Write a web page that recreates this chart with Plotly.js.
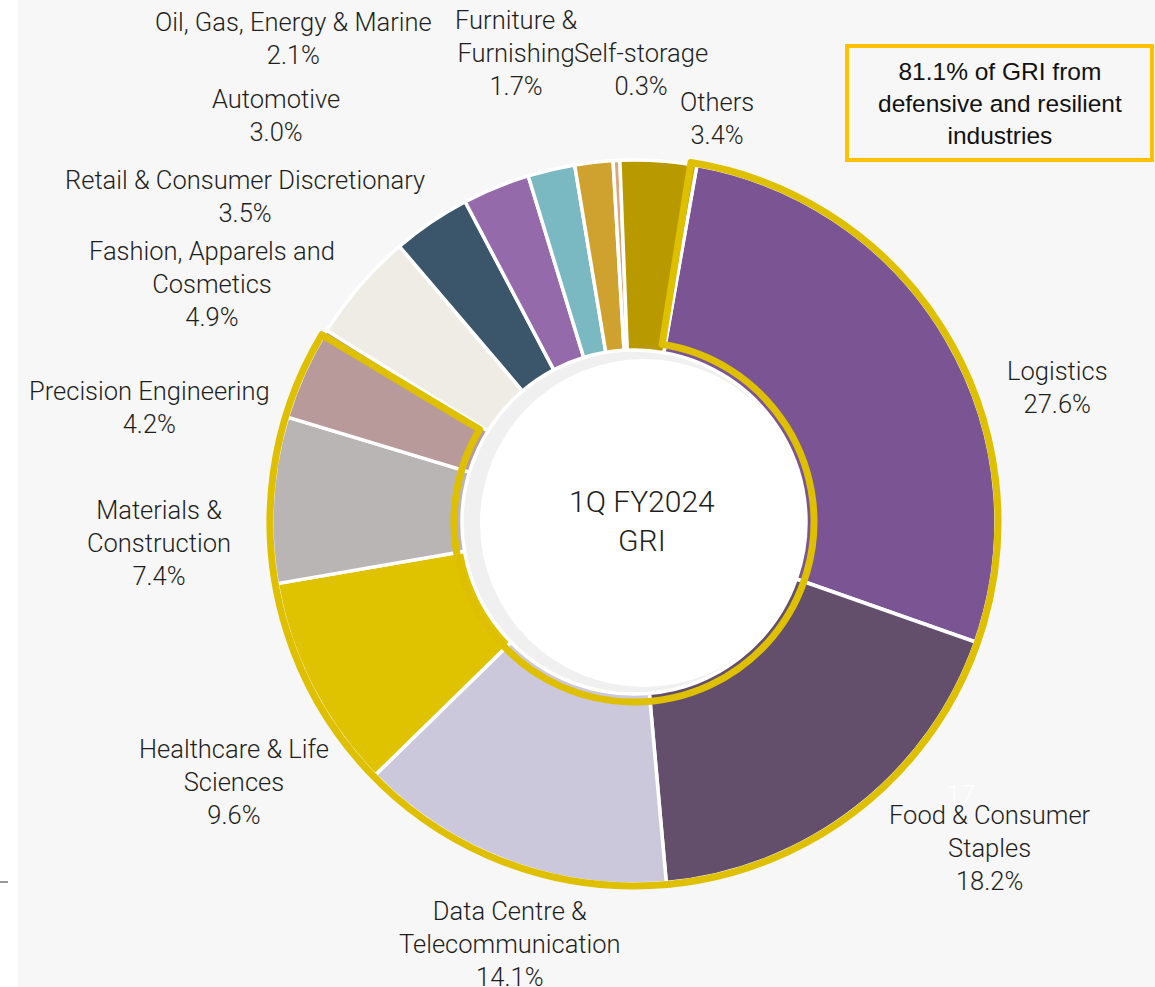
<!DOCTYPE html>
<html>
<head>
<meta charset="utf-8">
<script src="https://cdn.plot.ly/plotly-3.0.1.min.js"></script>
<style>
  html, body { margin: 0; padding: 0; background: #F7F7F7; }
  #chart { width: 1155px; height: 987px; }
</style>
</head>
<body>
<div id="chart"></div>
<script>
// ---- data ----
const categories = [
  'Logistics', 'Food & Consumer Staples', 'Data Centre & Telecommunication',
  'Healthcare & Life Sciences', 'Materials & Construction', 'Precision Engineering',
  'Fashion, Apparels and Cosmetics', 'Retail & Consumer Discretionary', 'Automotive',
  'Oil, Gas, Energy & Marine', 'Furniture & Furnishing', 'Self-storage', 'Others'
];
const shares = [27.6, 18.2, 14.1, 9.6, 7.4, 4.2, 4.9, 3.5, 3.0, 2.1, 1.7, 0.3, 3.4];
const defensiveCount = 6; // first six industries are the defensive / resilient group
const labelNames = [
  'Logistics', 'Food & Consumer<br>Staples', 'Data Centre &<br>Telecommunication',
  'Healthcare & Life<br>Sciences', 'Materials &<br>Construction', 'Precision Engineering',
  'Fashion, Apparels and<br>Cosmetics', 'Retail & Consumer Discretionary', 'Automotive',
  'Oil, Gas, Energy & Marine', 'Furniture &<br>Furnishing', 'Self-storage', 'Others'
];
const centreTitle = '1Q FY2024<br>GRI';
const pageNumber = '17';

// ---- styling ----
const sliceColors = [
  '#7B5493', '#634F6C', '#CBC8DC', '#DFC300', '#BAB5B5', '#B89A9B',
  '#EEECE4', '#3B566B', '#956AAB', '#7AB9C1', '#CFA22F', '#DCA57A', '#B89A00'
];
// label text block centres in pixels
const labelPos = [
  [1057, 387], [990, 848], [510, 944], [234, 782], [159, 543], [149, 407],
  [212, 284], [245, 196], [276, 115], [293, 38], [516, 53], [641, 70], [717, 118]
];

const W = 1155, H = 987;
function dom(cx, cy, r) {
  return { x: [(cx - r) / W, (cx + r) / W], y: [1 - (cy + r) / H, 1 - (cy - r) / H] };
}
const CX = 634, CY = 522, R = 362;

const defensiveShare = Math.round(shares.slice(0, defensiveCount).reduce((a, b) => a + b, 0) * 10) / 10;
const otherShare = Math.round((shares.reduce((a, b) => a + b, 0) - defensiveShare) * 10) / 10;

const traces = [
  { // grey inner ring
    type: 'pie', values: [1], labels: ['ring'], domain: dom(CX, CY, 174),
    marker: { colors: ['#F0F0F0'], line: { color: '#FFFFFF', width: 2 } },
    textinfo: 'none', hoverinfo: 'skip', showlegend: false, sort: false
  },
  { // white centre disc
    type: 'pie', values: [1], labels: ['centre'], domain: dom(644, 523, 164),
    marker: { colors: ['#FFFFFF'], line: { width: 0 } },
    textinfo: 'none', hoverinfo: 'skip', showlegend: false, sort: false
  },
  { // main donut
    type: 'pie', labels: categories, values: shares, domain: dom(CX, CY, R),
    hole: 172 / R, sort: false, direction: 'clockwise', rotation: 10,
    marker: { colors: sliceColors, line: { color: '#FFFFFF', width: 3.5 } },
    textinfo: 'none', hoverinfo: 'label+percent', showlegend: false
  },
  { // yellow outline around defensive group
    type: 'pie', labels: ['Defensive', 'Other'], values: [defensiveShare, otherShare],
    domain: dom(CX, CY, 364), hole: 180 / 364, sort: false, direction: 'clockwise', rotation: 9,
    marker: { colors: ['rgba(0,0,0,0)', 'rgba(0,0,0,0)'],
              line: { color: ['#DEC000', 'rgba(0,0,0,0)'], width: [7, 0] } },
    textinfo: 'none', hoverinfo: 'skip', showlegend: false
  }
];

const labelFont = { family: 'Roboto, "Liberation Sans", Arial, sans-serif', size: 25.5, color: '#1E1E1E', weight: 300 };
const annotations = labelNames.map((name, i) => ({
  xref: 'paper', yref: 'paper', x: labelPos[i][0] / W, y: 1 - labelPos[i][1] / H,
  xanchor: 'center', yanchor: 'middle', showarrow: false, align: 'center',
  text: name + '<br>' + shares[i].toFixed(1) + '%', font: labelFont
}));
annotations.push({
  xref: 'paper', yref: 'paper', x: 642 / W, y: 1 - 521 / H, xanchor: 'center', yanchor: 'middle',
  showarrow: false, align: 'center', text: centreTitle,
  font: { family: 'Roboto, "Liberation Sans", Arial, sans-serif', size: 30, color: '#1E1E1E', weight: 300 }
});
annotations.push({
  xref: 'paper', yref: 'paper', x: 1000 / W, y: 1 - 104 / H, xanchor: 'center', yanchor: 'middle',
  showarrow: false, align: 'center',
  text: defensiveShare.toFixed(1) + '% of GRI from<br>defensive and resilient<br>industries',
  font: { family: '"Liberation Sans", Arial, sans-serif', size: 24.5, color: '#111111' }
});
annotations.push({
  xref: 'paper', yref: 'paper', x: 960 / W, y: 1 - 795 / H, xanchor: 'center', yanchor: 'middle',
  showarrow: false, text: pageNumber,
  font: { family: 'Roboto, Arial, sans-serif', size: 26, color: 'rgba(255,255,255,0.9)', weight: 300 }
});

const layout = {
  width: W, height: H, margin: { l: 0, r: 0, t: 0, b: 0 },
  paper_bgcolor: '#F7F7F7', plot_bgcolor: '#F7F7F7', showlegend: false,
  shapes: [
    { type: 'rect', xref: 'paper', yref: 'paper', x0: 0, x1: 18 / W, y0: 0, y1: 1,
      fillcolor: '#FFFFFF', line: { width: 0 }, layer: 'below' },
    { type: 'line', xref: 'paper', yref: 'paper', x0: 0, x1: 8 / W, y0: 1 - 882 / H, y1: 1 - 882 / H,
      line: { color: '#333333', width: 1 } },
    { type: 'rect', xref: 'paper', yref: 'paper', x0: 847 / W, x1: 1152 / W, y0: 1 - 160 / H, y1: 1 - 46 / H,
      fillcolor: '#F7F7F7', line: { color: '#FFC000', width: 4 } }
  ],
  annotations: annotations
};

Plotly.newPlot('chart', traces, layout, { displayModeBar: false, staticPlot: true });
</script>
</body>
</html>
